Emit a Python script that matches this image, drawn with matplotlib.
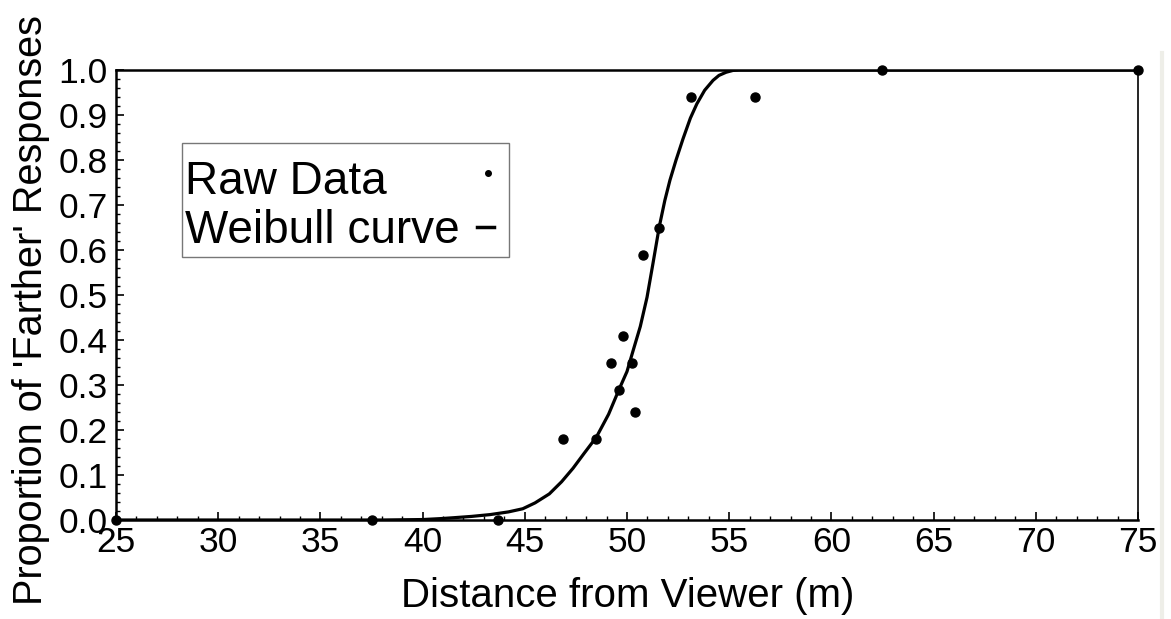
import matplotlib
matplotlib.use("Agg")
import matplotlib.pyplot as plt
from matplotlib.ticker import MultipleLocator, FormatStrFormatter
from matplotlib.lines import Line2D
from matplotlib.patches import Rectangle

plt.rcParams['font.family'] = ['Liberation Sans', 'DejaVu Sans']

# Raw data points
raw_x = [25, 37.5, 43.7, 46.88, 48.48, 49.22, 49.61, 49.79, 50.23, 50.39, 50.77, 51.58, 53.11, 56.25, 62.48, 75]
raw_y = [0.0, 0.0, 0.0, 0.18, 0.18, 0.35, 0.29, 0.41, 0.35, 0.24, 0.59, 0.65, 0.94, 0.94, 1.0, 1.0]

# Weibull curve
curve_x = [25, 38, 40, 40.85, 41.5, 42.4, 43.3, 44.2, 44.9, 45.5, 46.2, 46.8, 47.36, 47.9, 48.5, 49.1,
           49.61, 50.0, 50.29, 50.65, 50.98, 51.27, 51.58, 51.85, 52.1, 52.4, 52.74, 53.1, 53.42,
           53.8, 54.21, 54.5, 54.85, 55.18, 55.5, 75]
curve_y = [0.0, 0.0, 0.001, 0.003, 0.005, 0.008, 0.012, 0.018, 0.025, 0.038, 0.058, 0.085, 0.115, 0.148,
           0.184, 0.235, 0.29, 0.33, 0.375, 0.43, 0.495, 0.57, 0.652, 0.71, 0.755, 0.80, 0.847, 0.893,
           0.925, 0.955, 0.977, 0.988, 0.995, 0.999, 1.0, 1.0]

legend_labels = ['Raw Data', 'Weibull curve']

fig = plt.figure(figsize=(11.71, 6.19), dpi=100)
ax = fig.add_axes([116/1171, 99/619, 1022/1171, 450/619])

ax.plot(curve_x, curve_y, color='black', lw=2.3, solid_capstyle='round',
        solid_joinstyle='round', zorder=3)
ax.plot(raw_x, raw_y, 'o', color='black', ms=6.5, clip_on=False, zorder=4)

ax.set_xlim(25, 75)
ax.set_ylim(0, 1.0)
ax.xaxis.set_major_locator(MultipleLocator(5))
ax.xaxis.set_minor_locator(MultipleLocator(1))
ax.yaxis.set_major_locator(MultipleLocator(0.1))
ax.yaxis.set_minor_locator(MultipleLocator(0.02))
ax.yaxis.set_major_formatter(FormatStrFormatter('%.1f'))

ax.tick_params(which='both', direction='in', top=False, right=False, color='black')
ax.tick_params(which='major', length=6, width=1.2, labelsize=25.5, pad=4)
ax.tick_params(which='minor', length=3, width=1.0)
ax.tick_params(axis='y', which='major', pad=6)

for s in ['left', 'bottom', 'top']:
    ax.spines[s].set_linewidth(1.8)
ax.spines['right'].set_linewidth(1.2)

ax.set_xlabel('Distance from Viewer (m)', fontsize=29)
ax.set_ylabel("Proportion of 'Farther' Responses", fontsize=28.5)
ax.xaxis.set_label_coords(0.5005, -0.126)
ax.yaxis.set_label_coords(-0.0646, 0.467)

# Manual legend (text left-aligned, symbols at right)
ax.add_patch(Rectangle((66/1022, 263/450), 327/1022, 114/450, transform=ax.transAxes,
                       facecolor='white', edgecolor='#777777', lw=1.0, zorder=5))
ax.text(69/1022, (520-194)/450, legend_labels[0], transform=ax.transAxes,
        fontsize=33, ha='left', va='baseline', zorder=6)
ax.text(69/1022, (520-243)/450, legend_labels[1], transform=ax.transAxes,
        fontsize=33, ha='left', va='baseline', zorder=6)
ax.add_line(Line2D([372/1022], [(520-173)/450], transform=ax.transAxes, marker='o',
                   ls='none', color='black', ms=4, zorder=6))
ax.add_line(Line2D([361/1022, 378/1022], [(520-227)/450] * 2, transform=ax.transAxes,
                   color='black', lw=2.5, zorder=6))

fig.add_artist(Line2D([1162/1171, 1162/1171], [0.0, 566/619], transform=fig.transFigure,
                      color='#eeeee8', lw=3))

fig.savefig('out.png', dpi=100)
